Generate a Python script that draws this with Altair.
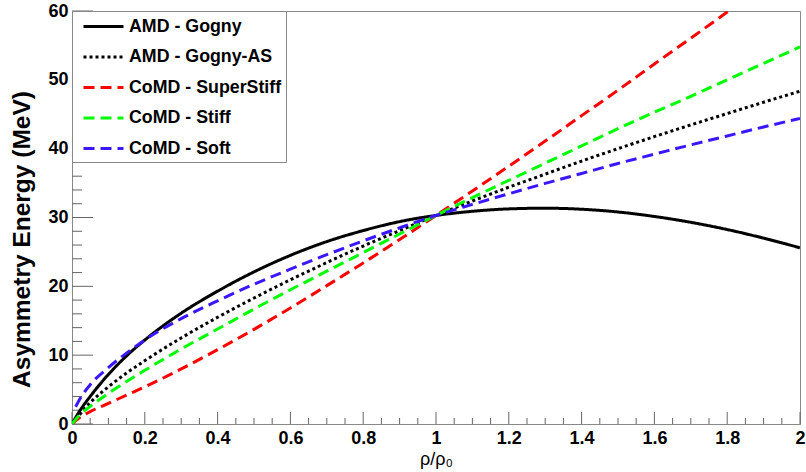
import altair as alt
import pandas as pd

# ---- data ----
U = [0, 0.02, 0.05, 0.1, 0.15, 0.2, 0.3, 0.4, 0.5, 0.6, 0.7, 0.8, 0.9, 1.0,
     1.1, 1.2, 1.3, 1.4, 1.5, 1.6, 1.7, 1.8, 1.9, 2.0]
U_SOFT = [0.01, 0.02, 0.05, 0.1, 0.15, 0.2, 0.3, 0.4, 0.5, 0.6, 0.7, 0.8, 0.9, 1.0,
          1.1, 1.2, 1.3, 1.4, 1.5, 1.6, 1.7, 1.8, 1.9, 2.0]

amd_gogny = [0, 1.8, 4.0, 7.2, 9.9, 12.2, 16.1, 19.3, 22.1, 24.5, 26.5, 28.1, 29.4, 30.3,
             30.9, 31.25, 31.35, 31.2, 30.8, 30.15, 29.3, 28.25, 27.0, 25.6]
amd_gogny_as = [0, 1.3, 3.1, 5.4, 7.4, 9.2, 12.5, 15.5, 18.3, 20.95, 23.45, 25.85, 28.1, 30.3,
                32.4, 34.4, 36.3, 38.2, 40.0, 41.75, 43.45, 45.1, 46.75, 48.35]
comd_superstiff = [0, 0.9, 1.8, 3.0, 4.2, 5.4, 8.0, 10.8, 13.75, 16.85, 20.1, 23.4, 26.8, 30.3,
                   33.85, 37.45, 41.1, 44.8, 48.5, 52.3, 56.05, 59.85, 63.7, 67.5]
comd_stiff = [0, 1.27, 2.57, 4.45, 6.17, 7.8, 10.9, 13.8, 16.7, 19.5, 22.2, 24.9, 27.6, 30.3,
              32.9, 35.4, 37.9, 40.4, 42.9, 45.3, 47.6, 50.0, 52.4, 54.8]
comd_soft = [2.5, 3.5, 5.7, 8.2, 10.3, 12.2, 15.3, 17.9, 20.3, 22.5, 24.6, 26.6, 28.5, 30.3,
             31.9, 33.45, 34.95, 36.4, 37.85, 39.2, 40.55, 41.85, 43.15, 44.4]

names = ["AMD - Gogny", "AMD - Gogny-AS", "CoMD - SuperStiff", "CoMD - Stiff", "CoMD - Soft"]
colors = ["#000000", "#000000", "#ff0000", "#00ff00", "#3a18ff"]
dashes = [[1, 0], [3, 3], [11, 6], [11, 6], [11, 6]]

X_TICKS = [0, 0.2, 0.4, 0.6, 0.8, 1.0, 1.2, 1.4, 1.6, 1.8, 2.0]
X_MINOR = [round(i * 0.05, 2) for i in range(41) if i % 4]
Y_TICKS = [0, 10, 20, 30, 40, 50, 60]
Y_MINOR = [2, 4, 6, 8, 12, 14, 16, 18, 22, 24, 26, 28, 32, 34, 36, 38, 42, 44, 46, 48, 52, 54, 56, 58]

rows = []
for name, xs, ys in zip(names, [U, U, U, U, U_SOFT],
                        [amd_gogny, amd_gogny_as, comd_superstiff, comd_stiff, comd_soft]):
    for x, y in zip(xs, ys):
        rows.append({"series": name, "u": x, "E": y})
df = pd.DataFrame(rows)

W, H = 728, 413
FONT = "Liberation Sans"
x_scale = alt.Scale(domain=[0, 2], nice=False, zero=False)
y_scale = alt.Scale(domain=[0, 60], nice=False)

x_axis = alt.Axis(values=X_TICKS, format=".1~f", title="ρ/ρ₀", labelFlush=False,
                  labelPadding=5, titlePadding=3, titleFontWeight="normal", titleFontSize=18)
y_axis = alt.Axis(values=Y_TICKS, title="Asymmetry Energy (MeV)", labelPadding=4,
                  titleFontWeight="bold", titleFontSize=24.5, titleAngle=270,
                  titleX=-50, titleY=228, titleAlign="center", titleBaseline="middle")

leg = alt.Legend(
    title=None, orient="none", legendX=0, legendY=0,
    symbolType="M-2,0H2", symbolSize=400, symbolStrokeWidth=3, symbolOffset=16,
    labelOffset=14, padding=4, rowPadding=9.5,
    labelExpr="datum.label + '\u00a0\u00a0\u00a0\u00a0\u00a0'",
    labelFont=FONT, labelFontWeight="bold", labelFontSize=17.8, labelColor="black",
    strokeColor="#888888", fillColor="white",
)

lines = alt.Chart(df).mark_line(strokeWidth=3, clip=True, interpolate="monotone").encode(
    x=alt.X("u:Q", scale=x_scale, axis=x_axis),
    y=alt.Y("E:Q", scale=y_scale, axis=y_axis),
    color=alt.Color("series:N", scale=alt.Scale(domain=names, range=colors), legend=leg),
    strokeDash=alt.StrokeDash("series:N", scale=alt.Scale(domain=names, range=dashes), legend=leg),
)

tick_color = "#666666"
ymaj = alt.Chart(pd.DataFrame({"E": Y_TICKS})).mark_rule(color=tick_color, strokeWidth=1).encode(
    y=alt.Y("E:Q", scale=y_scale, axis=y_axis), x=alt.value(0), x2=alt.value(21))
ymin = alt.Chart(pd.DataFrame({"E": Y_MINOR})).mark_rule(color=tick_color, strokeWidth=1).encode(
    y=alt.Y("E:Q", scale=y_scale, axis=y_axis), x=alt.value(0), x2=alt.value(10))
xmaj = alt.Chart(pd.DataFrame({"u": X_TICKS})).mark_rule(color=tick_color, strokeWidth=1).encode(
    x=alt.X("u:Q", scale=x_scale, axis=x_axis), y=alt.value(H), y2=alt.value(H - 12))
xmin = alt.Chart(pd.DataFrame({"u": X_MINOR})).mark_rule(color=tick_color, strokeWidth=1).encode(
    x=alt.X("u:Q", scale=x_scale, axis=x_axis), y=alt.value(H), y2=alt.value(H - 6))

chart = alt.layer(ymaj, ymin, xmaj, xmin, lines).properties(
    width=W, height=H,
    padding={"left": 72, "top": 11, "right": 6, "bottom": 48},
    autosize=alt.AutoSizeParams(type="none"),
    background="white",
).configure_view(
    stroke="#888888", strokeWidth=1
).configure_axis(
    grid=False, ticks=False, domainColor="#888888", domainWidth=1,
    labelFont=FONT, labelFontWeight="bold", labelFontSize=18, labelColor="black",
    titleFont=FONT, titleColor="black",
)

chart.save("out.html", embed_options={"renderer": "svg", "actions": False})
